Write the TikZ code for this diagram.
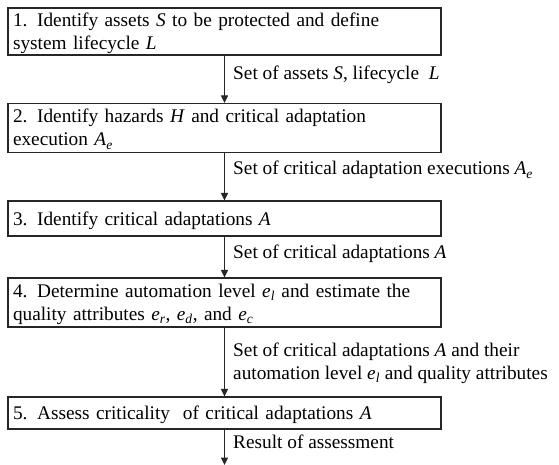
\documentclass[tikz,border=0pt]{standalone}
\usepackage{fontspec}
\setmainfont{Liberation Serif}
\usetikzlibrary{arrows.meta}
\newcommand{\isub}[2]{\textit{#1}\textsubscript{\textit{#2}}}
\newcommand{\bstrut}{\rule[-5pt]{0pt}{23pt}}
\begin{document}
\begin{tikzpicture}[x=1pt,y=-1pt,
  font=\fontsize{19.3}{23}\selectfont,
  stepbox/.style={draw=black!85, line width=1.1pt, minimum width=433pt,
    text width=423pt, inner xsep=5pt, inner ysep=0pt, align=left},
  arr/.style={draw=black!85, line width=1pt, -{Triangle[length=7.5pt,width=7pt]}},
  lbl/.style={anchor=base west, inner sep=0pt, align=left}]
\useasboundingbox (0,0) rectangle (559,465);
\node[stepbox, minimum height=47pt] (b1) at (224.5,31.5)
  {\bstrut 1. Identify assets \textit{S} to be protected and define\\system lifecycle \textit{L}\bstrut};
\node[stepbox, minimum height=49pt] (b2) at (224.5,128)
  {\bstrut 2. Identify hazards \textit{H} and critical adaptation\\execution \isub{A}{e}\bstrut};
\node[stepbox, minimum height=35pt] (b3) at (224.5,218.5)
  {\bstrut 3. Identify critical adaptations \textit{A}};
\node[stepbox, minimum height=49pt] (b4) at (224.5,302.5)
  {\bstrut 4. Determine automation level \isub{e}{l} and estimate the\\quality attributes \isub{e}{r}, \isub{e}{d}, and \isub{e}{c}\bstrut};
\node[stepbox, minimum height=32pt] (b5) at (224.5,413)
  {\bstrut 5. Assess criticality\ \ of critical adaptations \textit{A}};
\coordinate (end) at (224.5,465);
\draw[arr] (b1) -- (b2);
\draw[arr] (b2) -- (b3);
\draw[arr] (b3) -- (b4);
\draw[arr] (b4) -- (b5);
\draw[arr] (b5) -- (end);
\node[lbl] (l1) at (233,80) {Set of assets \textit{S}, lifecycle\ \ \textit{L}};
\node[lbl] (l2) at (233,175) {Set of critical adaptation executions \isub{A}{e}};
\node[lbl] (l3) at (233,258) {Set of critical adaptations \textit{A}};
\node[lbl, anchor=north west] (l4) at (233,343)
  {Set of critical adaptations \textit{A} and their\\automation\ level \isub{e}{l} and quality\ attributes};
\node[lbl] (l5) at (233,448) {Result of assessment};
\end{tikzpicture}
\end{document}
